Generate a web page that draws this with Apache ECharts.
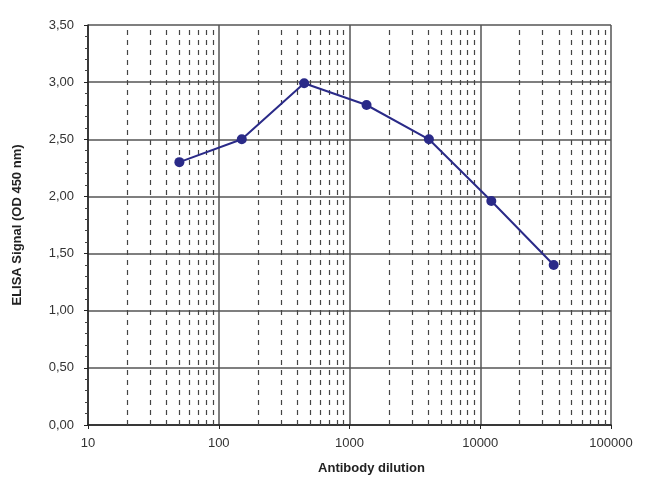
<!DOCTYPE html>
<html>
<head>
<meta charset="utf-8">
<script src="https://cdn.jsdelivr.net/npm/echarts@6/dist/echarts.min.js"></script>
<style>html,body{margin:0;padding:0;background:#fff}#c{width:650px;height:493px}</style>
</head>
<body>
<div id="c"></div>
<script>
const dilutions = [50, 150, 450, 1350, 4050, 12150, 36450];
const signals = [2.30, 2.50, 2.99, 2.80, 2.50, 1.96, 1.40];
const minorXTicks = [20,30,40,50,60,70,80,90,200,300,400,500,600,700,800,900,2000,3000,4000,5000,6000,7000,8000,9000,20000,30000,40000,50000,60000,70000,80000,90000];
const xTitle = 'Antibody dilution';
const yTitle = 'ELISA Signal (OD 450 nm)';

const chart = echarts.init(document.getElementById('c'), null, {renderer: 'canvas'});
const font = 'Liberation Sans, Arial, sans-serif';
chart.setOption({
  animation: false,
  backgroundColor: '#fff',
  grid: {left: 88, right: 39, top: 25, bottom: 68},
  xAxis: {
    type: 'log', logBase: 10, min: 10, max: 100000,
    name: xTitle, nameLocation: 'middle', nameGap: 37,
    nameTextStyle: {fontFamily: font, fontSize: 13, fontWeight: 'bold', color: '#222', padding: [0, 0, 0, 44]},
    axisLine: {show: true, lineStyle: {color: '#222', width: 1.5}},
    axisTick: {show: true, inside: false, length: 4, lineStyle: {color: '#222'}},
    axisLabel: {fontFamily: font, fontSize: 13, color: '#333', margin: 12,
      formatter: v => String(Math.round(v))},
    splitLine: {show: true, lineStyle: {color: '#555', width: 1.5}}
  },
  yAxis: {
    type: 'value', min: 0, max: 3.5, interval: 0.5,
    name: yTitle, nameLocation: 'middle', nameGap: 64, nameRotate: 90,
    nameTextStyle: {fontFamily: font, fontSize: 13, fontWeight: 'bold', color: '#222'},
    axisLine: {show: true, lineStyle: {color: '#222', width: 1.5}},
    axisTick: {show: true, length: 4, lineStyle: {color: '#222'}},
    minorTick: {show: true, splitNumber: 5, length: 3, lineStyle: {color: '#444'}},
    axisLabel: {fontFamily: font, fontSize: 13, color: '#333', margin: 14,
      formatter: v => v.toFixed(2).replace('.', ',')},
    splitLine: {show: true, lineStyle: {color: '#555', width: 1.5}}
  },
  series: [{
    type: 'line',
    data: dilutions.map((d, i) => [d, signals[i]]),
    symbol: 'circle', symbolSize: 10,
    lineStyle: {color: '#2a2a88', width: 2},
    itemStyle: {color: '#2a2a88'},
    z: 5,
    markLine: {
      silent: true, symbol: 'none', label: {show: false},
      lineStyle: {color: '#444', width: 1.2, type: [5, 5]},
      data: minorXTicks.map(v => ({xAxis: v})),
      z: 1
    }
  }]
});
</script>
</body>
</html>
